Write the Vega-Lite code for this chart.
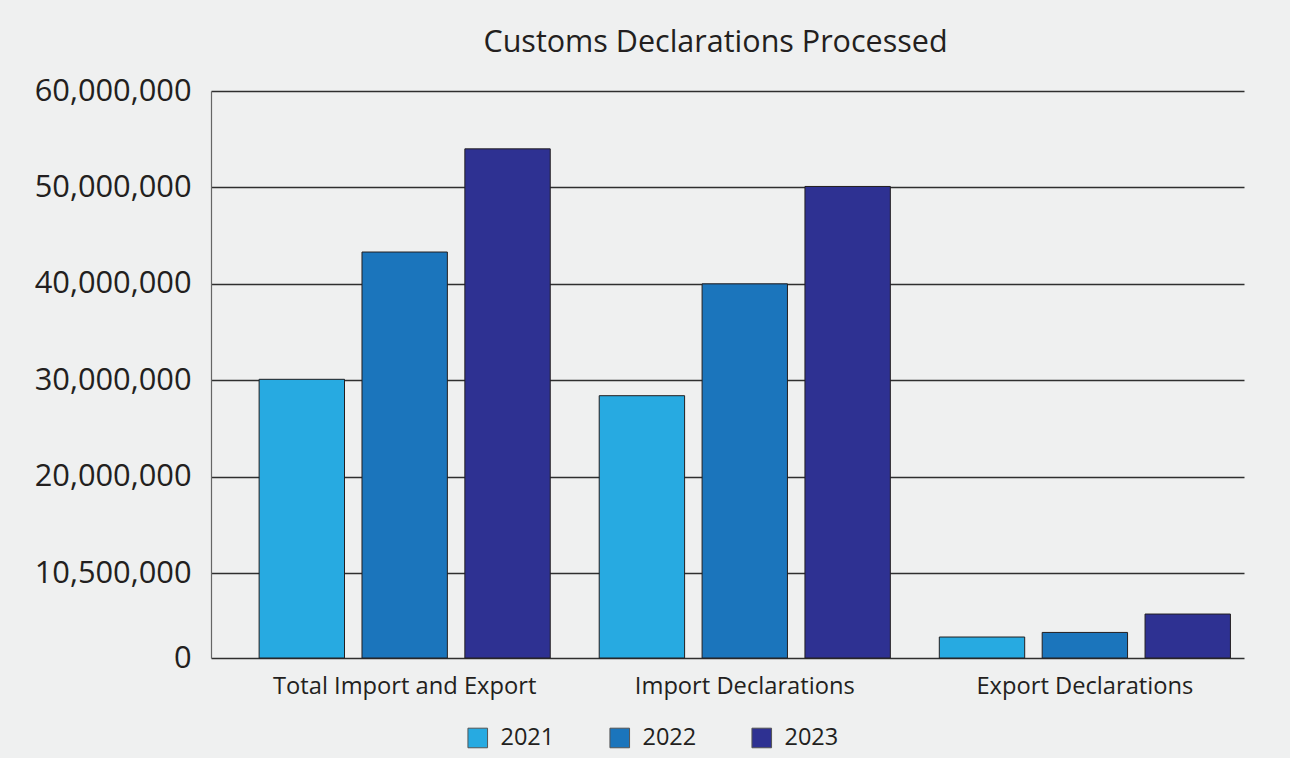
{
  "$schema": "https://vega.github.io/schema/vega-lite/v6.json",
  "autosize": {"type": "none"},
  "width": 1033,
  "height": 567,
  "padding": {"left": 211, "top": 91, "right": 46, "bottom": 100},
  "background": "#eff0f0",
  "title": {
    "text": "Customs Declarations Processed",
    "font": "Open Sans",
    "fontSize": 30.5,
    "fontWeight": "normal",
    "color": "#231f20",
    "anchor": "middle",
    "baseline": "alphabetic",
    "offset": -7,
    "dx": -12
  },
  "data": {
    "values": [
      {"category": "Total Import and Export", "year": "2021", "value": 30100000},
      {"category": "Total Import and Export", "year": "2022", "value": 43300000},
      {"category": "Total Import and Export", "year": "2023", "value": 54000000},
      {"category": "Import Declarations", "year": "2021", "value": 28400000},
      {"category": "Import Declarations", "year": "2022", "value": 40000000},
      {"category": "Import Declarations", "year": "2023", "value": 50100000},
      {"category": "Export Declarations", "year": "2021", "value": 2600000},
      {"category": "Export Declarations", "year": "2022", "value": 3170000},
      {"category": "Export Declarations", "year": "2023", "value": 5450000}
    ]
  },
  "mark": {"type": "bar", "stroke": "#231f20", "strokeWidth": 1},
  "encoding": {
    "x": {
      "field": "category",
      "type": "nominal",
      "sort": ["Total Import and Export", "Import Declarations", "Export Declarations"],
      "scale": {"paddingInner": 0.144, "paddingOuter": 0.0907, "align": 0.78},
      "axis": {
        "title": null,
        "labelAngle": 0,
        "domain": false,
        "ticks": false,
        "labelPadding": 16,
        "labelLimit": 500,
        "labelFont": "Open Sans",
        "labelFontSize": 23.7,
        "labelColor": "#231f20"
      }
    },
    "xOffset": {
      "field": "year",
      "type": "nominal",
      "scale": {"paddingInner": 0.17, "paddingOuter": 0}
    },
    "y": {
      "field": "value",
      "type": "quantitative",
      "scale": {
        "domain": [0, 10500000, 20000000, 60000000],
        "range": [567, 482.3, 385.7, 0],
        "nice": false,
        "zero": false
      },
      "axis": {
        "title": null,
        "values": [0, 10500000, 20000000, 30000000, 40000000, 50000000, 60000000],
        "labelExpr": "format(datum.value, ',')",
        "grid": true,
        "gridColor": "#2f2f2f",
        "gridWidth": 1.3,
        "domain": true,
        "domainColor": "#666666",
        "domainWidth": 1.2,
        "ticks": false,
        "labelPadding": 20,
        "labelLimit": 400,
        "labelFont": "Open Sans",
        "labelFontSize": 30.8,
        "labelColor": "#231f20"
      }
    },
    "color": {
      "field": "year",
      "type": "nominal",
      "scale": {"domain": ["2021", "2022", "2023"], "range": ["#27aae1", "#1b75bc", "#2e3192"]},
      "legend": {
        "title": null,
        "orient": "none",
        "direction": "horizontal",
        "legendX": 255,
        "legendY": 635,
        "padding": 0,
        "symbolType": "square",
        "symbolSize": 384,
        "symbolStrokeColor": "#555555",
        "symbolStrokeWidth": 1,
        "labelFont": "Open Sans",
        "labelFontSize": 23.5,
        "labelColor": "#231f20",
        "labelOffset": 11,
        "columnPadding": 52
      }
    }
  },
  "config": {"view": {"stroke": null}}
}
